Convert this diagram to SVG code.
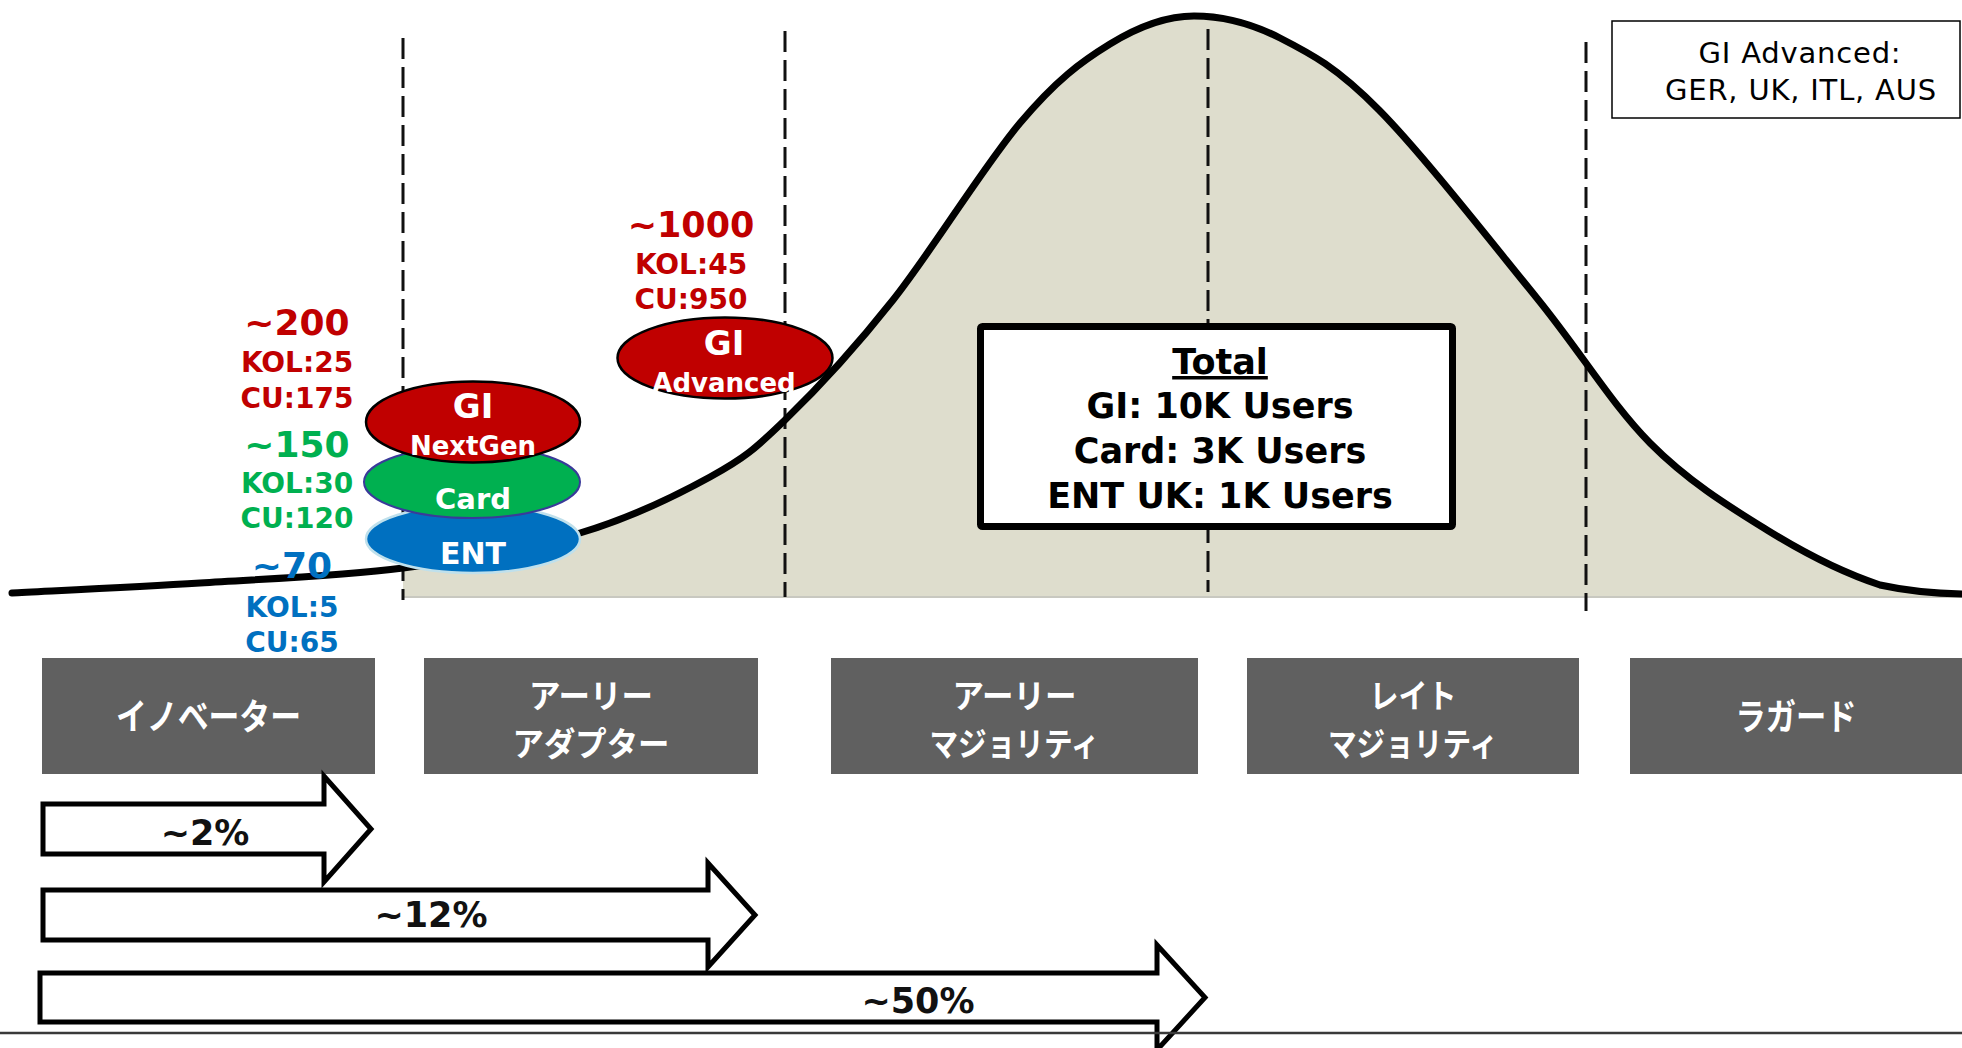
<svg xmlns="http://www.w3.org/2000/svg" width="1962" height="1048" viewBox="0 0 1962 1048">
<style>
.b{font-family:"DejaVu Sans","Noto Sans",sans-serif;font-weight:bold;text-anchor:middle}
.r{font-family:"DejaVu Sans","Noto Sans",sans-serif;text-anchor:middle}
.red{fill:#C00000}.grn{fill:#00B050}.blu{fill:#0070C0}
.w{fill:#FFFFFF}
.big{font-size:36px}.sm{font-size:28px}
.dash{stroke:#111;stroke-width:3;stroke-dasharray:21 8;fill:none}
.stage{fill:#606060}
.jp{font-family:"Noto Sans CJK JP","Noto Sans CJK SC",sans-serif;font-weight:bold;font-size:36px;fill:#fff;text-anchor:middle}
.jp2{font-size:33px}
.arr{fill:#fff;stroke:#000;stroke-width:5;stroke-linejoin:miter}
.pct{font-family:"DejaVu Sans",sans-serif;font-weight:bold;font-size:35px;text-anchor:middle;fill:#111}
</style>

<g id="chart">
  <path id="area" fill="#DEDDCD" d="M403,596 L403,568 C466.3,559.7 528.8,548.2 580,533 C631.2,517.8 675.8,495.8 710,477 C744.2,458.2 754.5,449.5 785,420 C815.5,390.5 853.8,349.5 893,300 C932.2,250.5 983.8,166 1020,123 C1056.2,80 1081,61.8 1110,44 C1139,26.2 1166,16 1194,16 C1222,16 1249.2,22.3 1280,38 C1310.8,53.7 1336.3,66.8 1379,110 C1421.7,153.2 1490.8,241.5 1536,297 C1581.2,352.5 1611.5,404.2 1650,443 C1688.5,481.8 1728.7,506.3 1767,530 C1805.3,553.7 1847.5,574.3 1880,585 C1912,592 1945,594 1970,594 L1970,596 Z"/>
  <line x1="403" y1="597" x2="1962" y2="597" stroke="#C8C8C0" stroke-width="2"/>
  <line class="dash" x1="403" y1="38" x2="403" y2="600"/>
  <line class="dash" x1="785" y1="31" x2="785" y2="597"/>
  <line class="dash" x1="1208" y1="29" x2="1208" y2="592"/>
  <line class="dash" x1="1586" y1="42" x2="1586" y2="611"/>
  <path id="curve" fill="none" stroke="#000" stroke-width="7" stroke-linecap="round" d="M12,593 C43.3,591.3 134.8,587.2 200,583 C265.2,578.8 339.7,576.3 403,568 C466.3,559.7 528.8,548.2 580,533 C631.2,517.8 675.8,495.8 710,477 C744.2,458.2 754.5,449.5 785,420 C815.5,390.5 853.8,349.5 893,300 C932.2,250.5 983.8,166 1020,123 C1056.2,80 1081,61.8 1110,44 C1139,26.2 1166,16 1194,16 C1222,16 1249.2,22.3 1280,38 C1310.8,53.7 1336.3,66.8 1379,110 C1421.7,153.2 1490.8,241.5 1536,297 C1581.2,352.5 1611.5,404.2 1650,443 C1688.5,481.8 1728.7,506.3 1767,530 C1805.3,553.7 1847.5,574.3 1880,585 C1912,592 1945,594 1970,594"/>
</g>

<g id="ent">
  <ellipse cx="473" cy="539" rx="107" ry="34" fill="#0070C0" stroke="#BFE0EC" stroke-width="2.5"/>
  <text class="b w" x="473" y="564" font-size="30">ENT</text>
</g>
<g id="card">
  <ellipse cx="472" cy="482" rx="108" ry="36" fill="#00B050" stroke="#3A3A9A" stroke-width="2"/>
  <text class="b w" x="473" y="509" font-size="29">Card</text>
</g>
<g id="gi-nextgen">
  <ellipse cx="473" cy="422" rx="107" ry="40.5" fill="#C00000" stroke="#000" stroke-width="2.5"/>
  <text class="b w" x="473" y="418" font-size="34">GI</text>
  <text class="b w" x="473" y="455" font-size="26">NextGen</text>
</g>
<g id="gi-advanced">
  <ellipse cx="725" cy="358" rx="107.5" ry="40.5" fill="#C00000" stroke="#000" stroke-width="2.5"/>
  <text class="b w" x="724" y="355" font-size="34">GI</text>
  <text class="b w" x="724" y="392" font-size="26">Advanced</text>
</g>

<g id="label-nextgen">
  <text class="b red big" x="297" y="335">~200</text>
  <text class="b red sm" x="297" y="372">KOL:25</text>
  <text class="b red sm" x="297" y="408">CU:175</text>
</g>
<g id="label-card">
  <text class="b grn big" x="297" y="457">~150</text>
  <text class="b grn sm" x="297" y="493">KOL:30</text>
  <text class="b grn sm" x="297" y="528">CU:120</text>
</g>
<g id="label-ent">
  <text class="b blu big" x="292" y="578">~70</text>
  <text class="b blu sm" x="292" y="617">KOL:5</text>
  <text class="b blu sm" x="292" y="652">CU:65</text>
</g>
<g id="label-advanced">
  <text class="b red" x="691" y="237" font-size="35">~1000</text>
  <text class="b red sm" x="691" y="274">KOL:45</text>
  <text class="b red sm" x="691" y="309">CU:950</text>
</g>

<g id="total">
  <rect x="980.5" y="326.5" width="472" height="200" rx="2" fill="#fff" stroke="#000" stroke-width="7"/>
  <text class="b" x="1220" y="374" font-size="35" text-decoration="underline">Total</text>
  <text class="b" x="1220" y="418" font-size="35">GI: 10K Users</text>
  <text class="b" x="1220" y="463" font-size="35">Card: 3K Users</text>
  <text class="b" x="1220" y="508" font-size="35">ENT UK: 1K Users</text>
</g>

<g id="note">
  <rect x="1612" y="21" width="348" height="97" fill="#fff" stroke="#000" stroke-width="1.5"/>
  <text class="r" x="1800" y="63" font-size="29" letter-spacing="0.8">GI Advanced:</text>
  <text class="r" x="1801" y="100" font-size="29" letter-spacing="0.8">GER, UK, ITL, AUS</text>
</g>

<g id="stage-innovators">
  <rect class="stage" x="42" y="658" width="333" height="116"/>
  <text class="jp" x="208.5" y="730" textLength="185" lengthAdjust="spacingAndGlyphs">イノベーター</text>
</g>
<g id="stage-early-adopters">
  <rect class="stage" x="424" y="658" width="334" height="116"/>
  <text class="jp jp2" x="591" y="708" textLength="124" lengthAdjust="spacingAndGlyphs">アーリー</text>
  <text class="jp jp2" x="591" y="756" textLength="157" lengthAdjust="spacingAndGlyphs">アダプター</text>
</g>
<g id="stage-early-majority">
  <rect class="stage" x="831" y="658" width="367" height="116"/>
  <text class="jp jp2" x="1014.5" y="708" textLength="124" lengthAdjust="spacingAndGlyphs">アーリー</text>
  <text class="jp jp2" x="1014.5" y="756" textLength="170" lengthAdjust="spacingAndGlyphs">マジョリティ</text>
</g>
<g id="stage-late-majority">
  <rect class="stage" x="1247" y="658" width="332" height="116"/>
  <text class="jp jp2" x="1413" y="708" textLength="87" lengthAdjust="spacingAndGlyphs">レイト</text>
  <text class="jp jp2" x="1413" y="756" textLength="170" lengthAdjust="spacingAndGlyphs">マジョリティ</text>
</g>
<g id="stage-laggards">
  <rect class="stage" x="1630" y="658" width="332" height="116"/>
  <text class="jp" x="1796" y="730" textLength="121" lengthAdjust="spacingAndGlyphs">ラガード</text>
</g>

<g id="arrows">
  <g id="arrow-2">
    <path class="arr" d="M43,804 L324,804 L324,776 L371,829 L324,882 L324,854 L43,854 Z"/>
    <text class="pct" x="205" y="845">~2%</text>
  </g>
  <g id="arrow-12">
    <path class="arr" d="M43,890 L708,890 L708,863 L755,915 L708,967 L708,940 L43,940 Z"/>
    <text class="pct" x="431" y="927">~12%</text>
  </g>
  <g id="arrow-50">
    <path class="arr" d="M40,973 L1157,973 L1157,945 L1205,997.5 L1157,1050 L1157,1022 L40,1022 Z"/>
    <text class="pct" x="918" y="1013">~50%</text>
  </g>
</g>
<line x1="0" y1="1033" x2="1962" y2="1033" stroke="#3A3A3A" stroke-width="2.5"/>
</svg>
